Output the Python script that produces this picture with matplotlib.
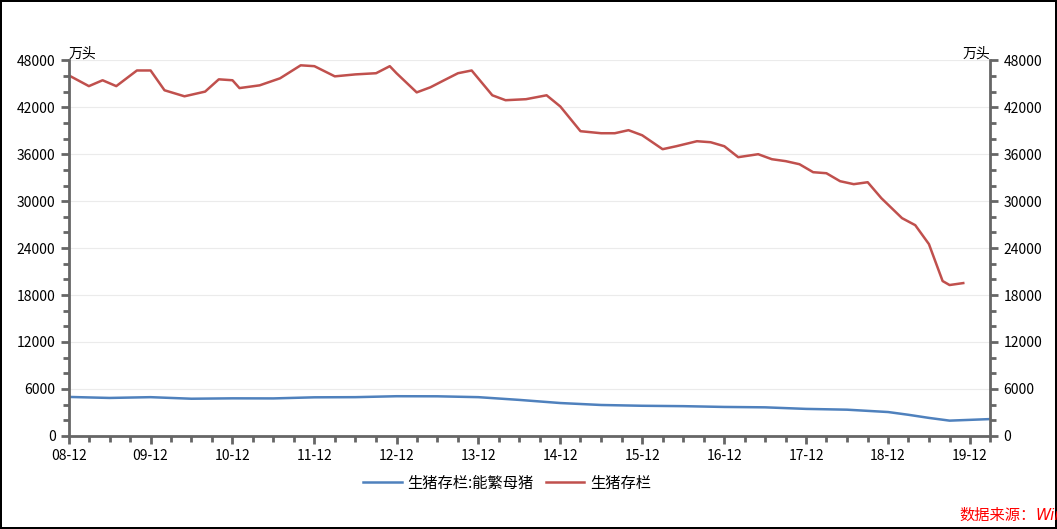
import pandas as pd
import matplotlib.pyplot as plt
import matplotlib.dates as mdates
from matplotlib.ticker import MultipleLocator

plt.rcParams['font.family'] = ['Noto Sans CJK SC', 'DejaVu Sans']

# 生猪存栏 (万头)
hog_dates = ['2008-12', '2009-03', '2009-05', '2009-07', '2009-10', '2009-12', '2010-02', '2010-05',
             '2010-08', '2010-10', '2010-12', '2011-01', '2011-04', '2011-07', '2011-10', '2011-12',
             '2012-03', '2012-06', '2012-09', '2012-11', '2012-12', '2013-03', '2013-05', '2013-07',
             '2013-09', '2013-11', '2014-02', '2014-04', '2014-07', '2014-10', '2014-12', '2015-03',
             '2015-06', '2015-08', '2015-10', '2015-12', '2016-03', '2016-05', '2016-08', '2016-10',
             '2016-12', '2017-02', '2017-05', '2017-07', '2017-09', '2017-11', '2018-01', '2018-03',
             '2018-05', '2018-07', '2018-09', '2018-11', '2019-02', '2019-04', '2019-06', '2019-08',
             '2019-09', '2019-11']
hog_vals = [46080, 44700, 45450, 44700, 46700, 46700, 44170, 43400,
            44000, 45570, 45450, 44450, 44800, 45700, 47360, 47250,
            45950, 46200, 46350, 47250, 46350, 43900, 44550, 45450,
            46350, 46700, 43530, 42900, 43030, 43530, 42100, 38940,
            38680, 38680, 39070, 38420, 36640, 37020, 37660, 37530,
            37020, 35620, 36000, 35360, 35110, 34720, 33700, 33570,
            32550, 32170, 32420, 30380, 27830, 26930, 24510, 19790,
            19280, 19530]

# 生猪存栏:能繁母猪 (万头)
sow_dates = ['2008-12', '2009-06', '2009-12', '2010-06', '2010-12', '2011-06', '2011-12', '2012-06',
             '2012-12', '2013-06', '2013-12', '2014-06', '2014-12', '2015-06', '2015-12', '2016-06',
             '2016-12', '2017-06', '2017-12', '2018-06', '2018-12', '2019-03', '2019-06', '2019-09',
             '2019-12', '2020-03']
sow_vals = [4980, 4850, 4950, 4750, 4800, 4790, 4930, 4950,
            5070, 5060, 4950, 4600, 4200, 3950, 3850, 3800,
            3700, 3650, 3450, 3350, 3050, 2700, 2300, 1950,
            2050, 2150]

hog_x = pd.to_datetime(hog_dates)
sow_x = pd.to_datetime(sow_dates)

fig = plt.figure(figsize=(10.57, 5.29), dpi=100)
fig.patch.set_edgecolor('black')
fig.patch.set_linewidth(1.5)
ax = fig.add_axes([0.065, 0.176, 0.872, 0.71])
ax.plot(sow_x, sow_vals, color='#4f81bd', lw=1.8, label='生猪存栏:能繁母猪')
ax.plot(hog_x, hog_vals, color='#c0504d', lw=1.8, label='生猪存栏')

ax.set_xlim(pd.Timestamp('2008-12-01'), pd.Timestamp('2020-03-01'))
ax.set_ylim(0, 48000)
ax.yaxis.set_major_locator(MultipleLocator(6000))
ax.yaxis.set_minor_locator(MultipleLocator(2000))
ax.xaxis.set_major_locator(mdates.MonthLocator(bymonth=12))
ax.xaxis.set_minor_locator(mdates.MonthLocator(bymonth=[3, 6, 9, 12]))
ax.xaxis.set_major_formatter(mdates.DateFormatter('%y-%m'))
ax.grid(axis='y', color='#ebebeb', lw=0.8)
ax.spines['top'].set_visible(False)
for s in ['left', 'bottom', 'right']:
    ax.spines[s].set_color('#666666')
    ax.spines[s].set_linewidth(2)
ax.tick_params(which='major', length=6, width=2, color='#666666', labelsize=10)
ax.tick_params(which='minor', length=4, width=2, color='#666666')
ax.tick_params(axis='y', which='both', right=True, labelright=True)

ax.text(0, 1.0, '万头', transform=ax.transAxes, fontsize=10, va='bottom', ha='left')
ax.text(1, 1.0, '万头', transform=ax.transAxes, fontsize=10, va='bottom', ha='right')

fig.legend(loc='lower center', bbox_to_anchor=(0.48, 0.045), ncol=2, frameon=False,
           fontsize=11, handlelength=2.5, columnspacing=0.8, handletextpad=0.4)
fig.text(0.98, 0.01, '数据来源：', color='red', fontsize=11, ha='right', va='bottom',
         transform=fig.transFigure)
fig.text(0.98, 0.012, 'Wind', color='red', fontsize=11, style='italic', ha='left', va='bottom',
         family='DejaVu Sans')

fig.savefig('out.png', dpi=100, edgecolor=fig.get_edgecolor())
